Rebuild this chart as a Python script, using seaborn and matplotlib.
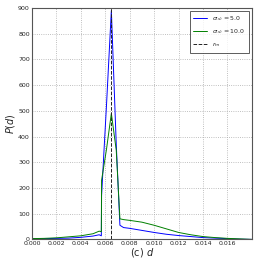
import numpy as np
import pandas as pd
import seaborn as sns
import matplotlib.pyplot as plt

# values
d = [0.0, 0.001, 0.002, 0.003, 0.004, 0.005, 0.0055, 0.00568, 0.0057, 0.0059,
     0.0061, 0.0065, 0.0069, 0.0072, 0.0075, 0.008, 0.009, 0.010, 0.011,
     0.012, 0.013, 0.014, 0.015, 0.016, 0.017, 0.018]
p_sigma5 = [2, 3, 4, 5, 8, 13, 18, 14, 170, 347,
            520, 890, 370, 55, 46, 43, 35, 27, 20,
            15, 11, 7, 5, 3, 1, 0]
p_sigma10 = [3, 4, 6, 10, 14, 22, 32, 30, 230, 290,
             350, 490, 347, 80, 77, 74, 67, 55, 41,
             27, 18, 11, 7, 4, 2, 0]
r_m = 0.0065

labels = [r"$\sigma_{(s)} = 5.0$", r"$\sigma_{(s)} = 10.0$", r"$r_{m}$"]

df = pd.DataFrame({"d": d * 2,
                   "P": p_sigma5 + p_sigma10,
                   "series": [labels[0]] * len(d) + [labels[1]] * len(d)})

sns.set_style("white")
plt.rcParams["font.family"] = ["DejaVu Sans"]

fig, ax = plt.subplots(figsize=(2.66, 2.66), dpi=100)
sns.lineplot(data=df, x="d", y="P", hue="series", palette=["#0000ff", "#008000"],
             linewidth=0.7, ax=ax, sort=False, estimator=None)
ax.axvline(r_m, color="#222222", linestyle="--", linewidth=0.7, label=labels[2])

ax.set_xlim(0, 0.018)
ax.set_ylim(0, 900)
ax.set_xticks(np.arange(0, 0.0161, 0.002))
ax.set_xticklabels([f"{t:.3f}" for t in np.arange(0, 0.0161, 0.002)])
ax.set_yticks(range(0, 901, 100))
ax.tick_params(labelsize=4.5, length=2, direction="in", pad=1.5)
ax.grid(True, linestyle=":", color="#aaaaaa", linewidth=0.6)
for s in ax.spines.values():
    s.set_color("#555555")
    s.set_linewidth(0.8)

ax.set_xlabel("(c) $d$", fontsize=7, labelpad=0)
ax.set_ylabel("$P(d)$", fontsize=7, labelpad=1)

leg = ax.legend(loc="upper right", fontsize=4.5, frameon=True, fancybox=False,
                handlelength=2.2, borderpad=0.6, labelspacing=0.7)
leg.get_frame().set_edgecolor("#333333")
leg.get_frame().set_linewidth(0.7)

fig.subplots_adjust(left=0.12, right=0.947, top=0.97, bottom=0.1)
fig.savefig("out.png", dpi=100)
